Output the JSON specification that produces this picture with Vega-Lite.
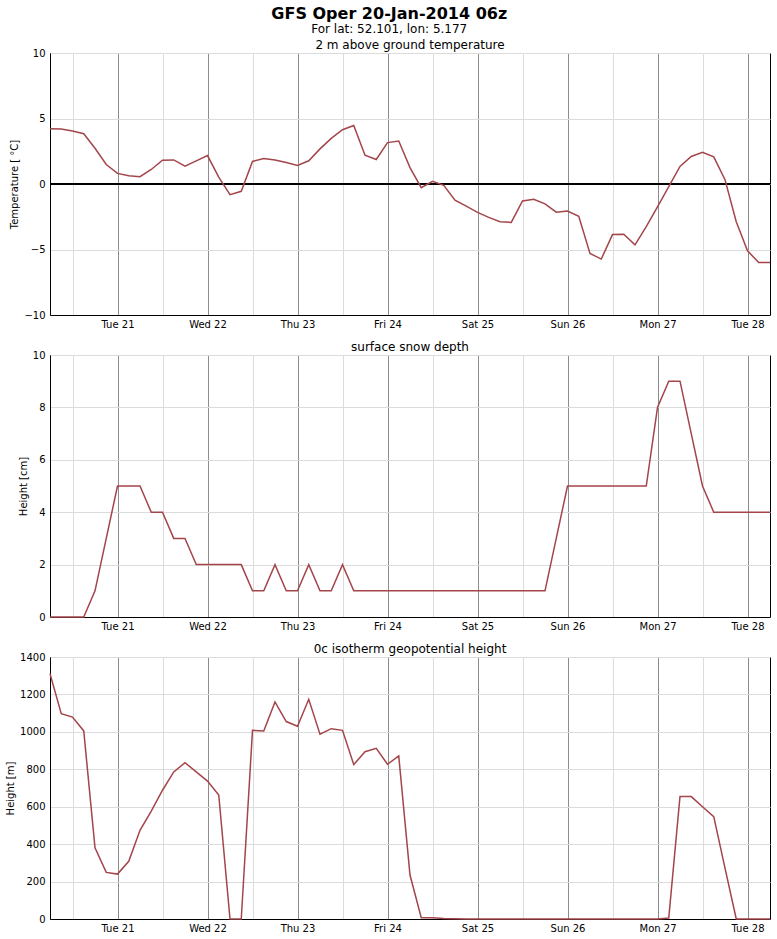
{
  "$schema": "https://vega.github.io/schema/vega-lite/v6.json",
  "padding": {"left": 5, "right": 7, "top": 5, "bottom": 5},
  "spacing": 10,
  "title": {
    "text": "GFS Oper 20-Jan-2014 06z",
    "subtitle": "For lat: 52.101, lon: 5.177",
    "font": "DejaVu Sans",
    "fontSize": 16,
    "fontWeight": "bold",
    "color": "black",
    "subtitleFont": "DejaVu Sans",
    "subtitleFontSize": 12,
    "subtitleColor": "black",
    "subtitlePadding": 2,
    "anchor": "middle",
    "offset": 4
  },
  "config": {
    "font": "DejaVu Sans",
    "view": {"stroke": "black", "strokeWidth": 1},
    "axis": {
      "labelFont": "DejaVu Sans",
      "labelFontSize": 10,
      "labelColor": "black",
      "titleFont": "DejaVu Sans",
      "titleFontSize": 10,
      "titleFontWeight": "normal",
      "titleColor": "black",
      "domainColor": "black",
      "domainWidth": 1,
      "gridColor": "#dcdcdc",
      "gridWidth": 1,
      "ticks": false
    },
    "axisX": {
      "values": [
        {"year": 2014, "month": 1, "date": 20, "hours": 12},
        {"year": 2014, "month": 1, "date": 20, "hours": 18},
        {"year": 2014, "month": 1, "date": 21, "hours": 0},
        {"year": 2014, "month": 1, "date": 21, "hours": 6},
        {"year": 2014, "month": 1, "date": 21, "hours": 12},
        {"year": 2014, "month": 1, "date": 21, "hours": 18},
        {"year": 2014, "month": 1, "date": 22, "hours": 0},
        {"year": 2014, "month": 1, "date": 22, "hours": 6},
        {"year": 2014, "month": 1, "date": 22, "hours": 12},
        {"year": 2014, "month": 1, "date": 22, "hours": 18},
        {"year": 2014, "month": 1, "date": 23, "hours": 0},
        {"year": 2014, "month": 1, "date": 23, "hours": 6},
        {"year": 2014, "month": 1, "date": 23, "hours": 12},
        {"year": 2014, "month": 1, "date": 23, "hours": 18},
        {"year": 2014, "month": 1, "date": 24, "hours": 0},
        {"year": 2014, "month": 1, "date": 24, "hours": 6},
        {"year": 2014, "month": 1, "date": 24, "hours": 12},
        {"year": 2014, "month": 1, "date": 24, "hours": 18},
        {"year": 2014, "month": 1, "date": 25, "hours": 0},
        {"year": 2014, "month": 1, "date": 25, "hours": 6},
        {"year": 2014, "month": 1, "date": 25, "hours": 12},
        {"year": 2014, "month": 1, "date": 25, "hours": 18},
        {"year": 2014, "month": 1, "date": 26, "hours": 0},
        {"year": 2014, "month": 1, "date": 26, "hours": 6},
        {"year": 2014, "month": 1, "date": 26, "hours": 12},
        {"year": 2014, "month": 1, "date": 26, "hours": 18},
        {"year": 2014, "month": 1, "date": 27, "hours": 0},
        {"year": 2014, "month": 1, "date": 27, "hours": 6},
        {"year": 2014, "month": 1, "date": 27, "hours": 12},
        {"year": 2014, "month": 1, "date": 27, "hours": 18},
        {"year": 2014, "month": 1, "date": 28, "hours": 0}
      ],
      "labelExpr": "hours(datum.value) == 0 ? timeFormat(datum.value, '%a %d') : ''",
      "grid": true,
      "gridColor": {"condition": {"test": "hours(datum.value) == 0", "value": "#8c8c8c"}, "value": "#dcdcdc"},
      "labelPadding": 4,
      "title": null
    },
    "title": {"font": "DejaVu Sans", "fontSize": 12, "fontWeight": "normal", "color": "black", "offset": -4}
  },
  "datasets": {
    "gfs": [
      {"t": "2014-01-20T06:00:00", "temp": 4.22, "snow": 0, "iso": 1311},
      {"t": "2014-01-20T09:00:00", "temp": 4.2, "snow": 0, "iso": 1097},
      {"t": "2014-01-20T12:00:00", "temp": 4.04, "snow": 0, "iso": 1079},
      {"t": "2014-01-20T15:00:00", "temp": 3.84, "snow": 0, "iso": 1005},
      {"t": "2014-01-20T18:00:00", "temp": 2.73, "snow": 1, "iso": 381},
      {"t": "2014-01-20T21:00:00", "temp": 1.49, "snow": 3, "iso": 249},
      {"t": "2014-01-21T00:00:00", "temp": 0.81, "snow": 5, "iso": 240},
      {"t": "2014-01-21T03:00:00", "temp": 0.63, "snow": 5, "iso": 308},
      {"t": "2014-01-21T06:00:00", "temp": 0.56, "snow": 5, "iso": 474},
      {"t": "2014-01-21T09:00:00", "temp": 1.11, "snow": 4, "iso": 577},
      {"t": "2014-01-21T12:00:00", "temp": 1.82, "snow": 4, "iso": 688},
      {"t": "2014-01-21T15:00:00", "temp": 1.84, "snow": 3, "iso": 786},
      {"t": "2014-01-21T18:00:00", "temp": 1.36, "snow": 3, "iso": 835},
      {"t": "2014-01-21T21:00:00", "temp": 1.77, "snow": 2, "iso": 786},
      {"t": "2014-01-22T00:00:00", "temp": 2.17, "snow": 2, "iso": 737},
      {"t": "2014-01-22T03:00:00", "temp": 0.53, "snow": 2, "iso": 663},
      {"t": "2014-01-22T06:00:00", "temp": -0.81, "snow": 2, "iso": 0},
      {"t": "2014-01-22T09:00:00", "temp": -0.56, "snow": 2, "iso": 0},
      {"t": "2014-01-22T12:00:00", "temp": 1.72, "snow": 1, "iso": 1008},
      {"t": "2014-01-22T15:00:00", "temp": 1.94, "snow": 1, "iso": 1005},
      {"t": "2014-01-22T18:00:00", "temp": 1.84, "snow": 2, "iso": 1160},
      {"t": "2014-01-22T21:00:00", "temp": 1.64, "snow": 1, "iso": 1055},
      {"t": "2014-01-23T00:00:00", "temp": 1.41, "snow": 1, "iso": 1030},
      {"t": "2014-01-23T03:00:00", "temp": 1.77, "snow": 2, "iso": 1174},
      {"t": "2014-01-23T06:00:00", "temp": 2.68, "snow": 1, "iso": 987},
      {"t": "2014-01-23T09:00:00", "temp": 3.48, "snow": 1, "iso": 1017},
      {"t": "2014-01-23T12:00:00", "temp": 4.14, "snow": 2, "iso": 1008},
      {"t": "2014-01-23T15:00:00", "temp": 4.47, "snow": 1, "iso": 825},
      {"t": "2014-01-23T18:00:00", "temp": 2.2, "snow": 1, "iso": 894},
      {"t": "2014-01-23T21:00:00", "temp": 1.87, "snow": 1, "iso": 912},
      {"t": "2014-01-24T00:00:00", "temp": 3.16, "snow": 1, "iso": 827},
      {"t": "2014-01-24T03:00:00", "temp": 3.28, "snow": 1, "iso": 871},
      {"t": "2014-01-24T06:00:00", "temp": 1.25, "snow": 1, "iso": 235},
      {"t": "2014-01-24T09:00:00", "temp": -0.28, "snow": 1, "iso": 7},
      {"t": "2014-01-24T12:00:00", "temp": 0.2, "snow": 1, "iso": 7},
      {"t": "2014-01-24T15:00:00", "temp": -0.1, "snow": 1, "iso": 3},
      {"t": "2014-01-24T18:00:00", "temp": -1.24, "snow": 1, "iso": 1},
      {"t": "2014-01-24T21:00:00", "temp": -1.69, "snow": 1, "iso": 0},
      {"t": "2014-01-25T00:00:00", "temp": -2.17, "snow": 1, "iso": 0},
      {"t": "2014-01-25T03:00:00", "temp": -2.55, "snow": 1, "iso": 0},
      {"t": "2014-01-25T06:00:00", "temp": -2.88, "snow": 1, "iso": 0},
      {"t": "2014-01-25T09:00:00", "temp": -2.93, "snow": 1, "iso": 0},
      {"t": "2014-01-25T12:00:00", "temp": -1.29, "snow": 1, "iso": 0},
      {"t": "2014-01-25T15:00:00", "temp": -1.16, "snow": 1, "iso": 0},
      {"t": "2014-01-25T18:00:00", "temp": -1.52, "snow": 1, "iso": 0},
      {"t": "2014-01-25T21:00:00", "temp": -2.15, "snow": 3, "iso": 0},
      {"t": "2014-01-26T00:00:00", "temp": -2.07, "snow": 5, "iso": 0},
      {"t": "2014-01-26T03:00:00", "temp": -2.47, "snow": 5, "iso": 0},
      {"t": "2014-01-26T06:00:00", "temp": -5.3, "snow": 5, "iso": 0},
      {"t": "2014-01-26T09:00:00", "temp": -5.73, "snow": 5, "iso": 0},
      {"t": "2014-01-26T12:00:00", "temp": -3.86, "snow": 5, "iso": 0},
      {"t": "2014-01-26T15:00:00", "temp": -3.84, "snow": 5, "iso": 0},
      {"t": "2014-01-26T18:00:00", "temp": -4.65, "snow": 5, "iso": 0},
      {"t": "2014-01-26T21:00:00", "temp": -3.26, "snow": 5, "iso": 0},
      {"t": "2014-01-27T00:00:00", "temp": -1.74, "snow": 8, "iso": 0},
      {"t": "2014-01-27T03:00:00", "temp": -0.2, "snow": 9, "iso": 5},
      {"t": "2014-01-27T06:00:00", "temp": 1.34, "snow": 9, "iso": 655},
      {"t": "2014-01-27T09:00:00", "temp": 2.1, "snow": 7, "iso": 654},
      {"t": "2014-01-27T12:00:00", "temp": 2.42, "snow": 5, "iso": 600},
      {"t": "2014-01-27T15:00:00", "temp": 2.07, "snow": 4, "iso": 547},
      {"t": "2014-01-27T18:00:00", "temp": 0.33, "snow": 4, "iso": 272},
      {"t": "2014-01-27T21:00:00", "temp": -2.88, "snow": 4, "iso": 0},
      {"t": "2014-01-28T00:00:00", "temp": -5.1, "snow": 4, "iso": 0},
      {"t": "2014-01-28T03:00:00", "temp": -6.0, "snow": 4, "iso": 0},
      {"t": "2014-01-28T06:00:00", "temp": -6.0, "snow": 4, "iso": 0}
    ]
  },
  "vconcat": [
    {
      "width": 720,
      "height": 262,
      "title": {"text": "2 m above ground temperature"},
      "data": {"name": "gfs"},
      "layer": [
        {
          "mark": {"type": "rule", "color": "black", "strokeWidth": 1.3},
          "encoding": {"y": {"datum": 0}}
        },
        {
          "mark": {"type": "line", "color": "#a3454a", "strokeWidth": 1.5},
          "encoding": {
            "x": {"field": "t", "type": "temporal"},
            "y": {"field": "temp", "type": "quantitative", "scale": {"domain": [-10, 10]},
              "axis": {"values": [-10, -5, 0, 5, 10], "grid": true, "labelPadding": 5, "title": "Temperature [ °C]"}}
          }
        }
      ]
    },
    {
      "width": 720,
      "height": 262,
      "title": {"text": "surface snow depth"},
      "data": {"name": "gfs"},
      "mark": {"type": "line", "color": "#a3454a", "strokeWidth": 1.5},
      "encoding": {
        "x": {"field": "t", "type": "temporal"},
        "y": {"field": "snow", "type": "quantitative", "scale": {"domain": [0, 10]},
          "axis": {"values": [0, 2, 4, 6, 8, 10], "grid": true, "labelPadding": 5, "title": "Height [cm]"}}
      }
    },
    {
      "width": 720,
      "height": 262,
      "title": {"text": "0c isotherm geopotential height"},
      "data": {"name": "gfs"},
      "mark": {"type": "line", "color": "#a3454a", "strokeWidth": 1.5},
      "encoding": {
        "x": {"field": "t", "type": "temporal"},
        "y": {"field": "iso", "type": "quantitative", "scale": {"domain": [0, 1400]},
          "axis": {"values": [0, 200, 400, 600, 800, 1000, 1200, 1400], "format": "d", "grid": true, "labelPadding": 5, "title": "Height [m]"}}
      }
    }
  ]
}
